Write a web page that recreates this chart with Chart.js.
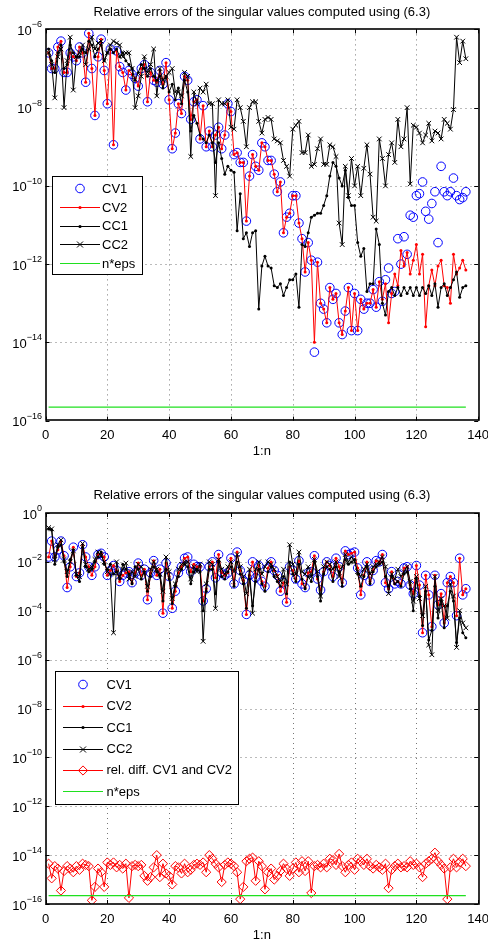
<!DOCTYPE html>
<html>
<head>
<meta charset="utf-8">
<script src="https://cdn.jsdelivr.net/npm/chart.js@4/dist/chart.umd.min.js"></script>
<style>
body{margin:0;background:#fff;width:488px;height:943px;overflow:hidden;position:relative}
canvas{position:absolute;left:0}
</style>
</head>
<body>
<canvas id="c1" width="488" height="471" style="top:0"></canvas>
<canvas id="c2" width="488" height="472" style="top:471px"></canvas>
<script>
// values are log10 of the relative error, for i = 1..136
var titleText = 'Relative errors of the singular values computed using (6.3)';
var xLabel = '1:n';
var xTicks = [0, 20, 40, 60, 80, 100, 120, 140];
var topYExps = [-6, -8, -10, -12, -14, -16];
var botYExps = [0, -2, -4, -6, -8, -10, -12, -14, -16];
var epsLevel = 2.22e-16;

// ---- upper plot ----
var topCV1 = [
 -6.6,-7.0,-7.0,-6.45,-6.3,-7.1,-7.1,-6.6,-6.7,-6.8,
 -6.45,-6.6,-7.35,-6.1,-7.0,-8.2,-6.7,-6.25,-7.05,-7.9,
 -6.5,-8.95,-6.55,-6.95,-7.1,-7.55,-7.05,-7.15,-7.25,-7.45,
 -7.0,-6.9,-7.85,-7.1,-7.3,-7.35,-7.05,-7.4,-6.85,-7.8,
 -9.05,-8.65,-7.9,-8.15,-7.2,-7.3,-8.3,-7.85,-7.8,-8.8,
 -7.95,-9.0,-8.6,-9.0,-8.7,-8.5,-9.05,-8.7,-7.9,-8.1,
 -9.2,-9.15,-9.4,-9.4,-10.9,-9.75,-9.2,-9.5,-9.6,-8.9,
 -9.0,-9.35,-9.35,-9.7,-10.15,-9.9,-11.2,-10.8,-10.7,-10.25,
 -10.25,-10.95,-11.35,-12.2,-11.45,-11.9,-14.25,-11.95,-13.0,-13.15,
 -13.5,-12.6,-12.9,-12.75,-13.5,-13.8,-13.2,-12.6,-13.7,-12.75,
 -13.7,-12.9,-13.15,-13.0,-13.0,-12.65,-13.1,-12.45,-12.95,-12.4,
 -12.1,-12.75,-12.7,-11.35,-12.0,-11.3,-11.75,-10.75,-10.8,-10.25,
 -10.2,-9.9,-10.65,-10.85,-10.45,-10.15,-11.45,-9.5,-10.15,-10.25,
 -10.15,-9.8,-10.25,-10.35,-10.3,-10.15
];
var topCV2 = [
 -6.6,-7.0,-7.0,-6.45,-6.3,-7.1,-7.1,-6.6,-6.7,-6.8,
 -6.45,-6.6,-7.35,-6.1,-7.0,-8.2,-6.7,-6.25,-7.05,-7.9,
 -6.5,-8.95,-6.55,-6.95,-7.1,-7.55,-7.05,-7.15,-7.25,-7.45,
 -7.0,-6.9,-7.85,-7.1,-7.3,-7.35,-7.05,-7.4,-6.85,-7.8,
 -9.05,-8.65,-7.9,-8.15,-7.2,-7.3,-8.3,-7.85,-7.8,-8.8,
 -7.95,-9.0,-8.6,-9.0,-8.7,-8.5,-9.05,-8.7,-7.9,-8.1,
 -9.2,-9.15,-9.4,-9.4,-10.9,-9.75,-9.2,-9.5,-9.6,-8.9,
 -9.0,-9.35,-9.35,-9.7,-10.15,-9.9,-11.2,-10.8,-10.7,-10.25,
 -10.25,-10.95,-11.35,-12.2,-11.45,-11.9,-14.0,-11.95,-13.0,-13.15,
 -13.5,-12.6,-12.9,-12.75,-13.5,-13.8,-13.2,-12.6,-13.7,-12.75,
 -13.7,-12.9,-13.15,-13.0,-13.0,-12.65,-13.1,-12.45,-12.9,-12.5,
 -13.5,-12.75,-12.25,-12.55,-11.65,-12.05,-11.7,-12.25,-11.9,-11.5,
 -12.25,-11.75,-13.6,-12.55,-12.15,-12.55,-12.05,-11.9,-12.55,-12.6,
 -13.0,-11.75,-12.25,-12.1,-11.9,-12.15
];
var topCC1 = [
 -6.5,-6.8,-7.1,-6.6,-6.4,-7.0,-6.9,-6.4,-6.6,-6.7,
 -6.7,-6.5,-6.6,-6.3,-6.4,-6.7,-6.5,-6.4,-6.8,-6.6,
 -6.5,-6.6,-6.5,-6.7,-6.6,-6.8,-6.9,-7.0,-7.3,-7.1,
 -6.9,-7.0,-7.2,-7.0,-7.2,-7.3,-7.2,-7.5,-7.2,-7.6,
 -7.4,-7.8,-7.5,-7.9,-7.3,-7.6,-8.6,-8.2,-8.4,-8.7,
 -8.8,-8.9,-8.7,-8.9,-9.4,-8.9,-9.3,-9.7,-9.5,-9.6,
 -9.65,-11.15,-10.2,-11.35,-11.2,-11.55,-11.2,-11.15,-13.15,-12.05,
 -11.8,-12.05,-12.1,-12.55,-12.6,-12.5,-12.8,-12.6,-12.4,-12.4,
 -12.25,-13.1,-11.5,-11.55,-11.2,-10.8,-10.75,-10.7,-10.7,-10.5,
 -10.25,-9.75,-9.4,-9.5,-9.8,-10.0,-9.6,-10.3,-10.5,-10.5,
 -11.45,-11.8,-11.6,-12.7,-12.5,-12.5,-11.1,-11.5,-13.0,-13.3,
 -12.7,-12.6,-12.8,-12.6,-12.8,-12.6,-12.75,-12.6,-12.8,-12.6,
 -12.8,-12.6,-12.75,-12.55,-12.8,-12.5,-13.1,-12.6,-12.5,-12.8,
 -12.6,-12.4,-12.2,-12.85,-12.6,-12.55
];
var topCC2 = [
 -6.6,-6.9,-7.75,-6.7,-6.5,-8.0,-6.8,-6.2,-7.55,-6.7,
 -6.6,-6.4,-6.9,-6.5,-6.2,-6.5,-6.35,-6.3,-6.8,-6.6,
 -6.4,-6.3,-6.35,-6.4,-6.7,-6.6,-6.6,-7.0,-8.0,-7.7,
 -7.2,-6.7,-7.1,-6.9,-6.5,-7.7,-7.0,-7.3,-7.2,-7.1,
 -7.0,-7.6,-7.6,-7.7,-7.1,-7.2,-9.25,-7.6,-7.9,-7.5,
 -7.6,-7.4,-7.9,-7.9,-10.25,-7.8,-7.9,-7.9,-7.8,-8.5,
 -8.55,-7.8,-8.0,-8.35,-9.0,-8.0,-7.85,-7.85,-8.35,-8.65,
 -8.3,-8.25,-8.3,-8.8,-8.85,-8.9,-9.35,-9.5,-9.75,-8.55,
 -8.45,-8.35,-9.15,-9.15,-8.7,-9.5,-9.45,-9.05,-8.8,-9.45,
 -9.45,-8.95,-9.0,-9.25,-10.95,-11.5,-9.5,-10.25,-9.3,-10.0,
 -9.5,-10.25,-9.55,-8.95,-9.7,-10.8,-10.9,-8.8,-9.3,-10.0,
 -9.2,-8.9,-9.4,-8.3,-9.0,-8.8,-8.0,-9.95,-8.45,-8.5,
 -8.65,-8.9,-8.7,-8.4,-8.85,-8.6,-8.65,-8.8,-8.3,-8.4,
 -8.55,-8.05,-6.2,-6.85,-6.3,-6.75
];

// ---- lower plot ----
var botCV1 = [
 -1.8,-1.15,-1.8,-1.5,-1.15,-1.75,-3.05,-2.2,-1.4,-2.6,
 -2.45,-1.3,-1.8,-2.2,-2.55,-2.2,-1.7,-1.65,-1.8,-2.55,
 -2.35,-2.15,-2.35,-2.8,-2.55,-2.45,-2.4,-2.85,-2.45,-2.05,
 -2.55,-2.3,-3.55,-2.45,-1.95,-2.55,-2.3,-4.1,-2.05,-2.6,
 -3.9,-3.2,-2.45,-2.2,-1.85,-1.8,-2.4,-2.1,-2.2,-2.2,
 -3.6,-3.1,-2.2,-2.0,-2.65,-1.7,-2.45,-2.55,-2.45,-1.85,
 -2.9,-1.6,-2.35,-2.75,-4.15,-2.55,-2.0,-2.65,-2.15,-2.8,
 -3.0,-2.25,-2.0,-2.35,-2.55,-3.2,-2.85,-3.65,-2.2,-2.35,
 -2.7,-1.95,-2.9,-3.05,-2.45,-2.4,-1.75,-2.7,-3.15,-2.4,
 -2.0,-2.15,-2.6,-1.85,-2.2,-2.85,-1.55,-1.7,-1.65,-1.6,
 -2.25,-3.35,-2.55,-2.0,-2.8,-2.35,-1.95,-2.0,-1.7,-2.85,
 -3.1,-2.4,-2.9,-2.8,-2.9,-2.25,-2.2,-2.95,-3.3,-2.15,
 -2.95,-4.9,-2.55,-3.35,-4.65,-2.55,-3.75,-3.3,-4.5,-2.85,
 -2.6,-2.85,-4.2,-1.85,-3.35,-3.1
];
// CV2 coincides with CV1 here (relative difference ~1e-15)
var botCV2 = botCV1.slice();
var botCC1 = [
 -0.65,-0.7,-2.1,-1.4,-1.3,-2.0,-2.6,-1.9,-1.5,-2.55,
 -2.8,-1.4,-2.2,-2.4,-2.3,-2.0,-1.8,-1.6,-2.1,-2.3,
 -2.1,-2.5,-2.4,-2.7,-2.1,-2.3,-2.5,-2.9,-2.2,-2.3,
 -2.7,-2.4,-3.2,-2.6,-2.2,-2.4,-2.6,-3.6,-2.3,-2.7,
 -3.7,-3.0,-2.6,-2.3,-2.1,-2.2,-2.9,-2.4,-2.3,-2.4,
 -4.0,-3.2,-2.3,-2.3,-3.3,-2.0,-2.6,-2.7,-2.4,-2.2,
 -3.0,-2.0,-2.5,-2.9,-3.9,-2.7,-3.8,-2.8,-2.3,-2.9,
 -3.2,-2.4,-2.2,-2.6,-2.8,-3.0,-2.6,-3.3,-2.0,-2.5,
 -2.8,-2.1,-2.7,-3.1,-2.6,-2.8,-2.0,-2.6,-3.6,-2.5,
 -2.2,-2.3,-2.8,-2.2,-2.4,-3.0,-1.9,-2.1,-2.0,-1.9,
 -2.5,-3.0,-2.6,-2.2,-2.9,-2.4,-2.2,-2.1,-2.0,-2.6,
 -3.0,-2.6,-2.9,-2.8,-3.0,-2.5,-2.4,-3.1,-4.0,-2.7,
 -3.4,-4.6,-3.2,-5.2,-4.8,-3.0,-4.3,-3.6,-4.7,-3.8,
 -3.2,-3.6,-5.3,-4.3,-4.9,-5.1
];
var botCC2 = [
 -0.6,-0.65,-1.9,-1.3,-1.1,-1.9,-2.4,-2.0,-1.55,-2.5,
 -2.6,-1.25,-2.1,-2.3,-2.2,-1.9,-1.6,-1.75,-2.0,-2.4,
 -2.5,-4.9,-2.0,-2.6,-2.3,-2.05,-2.7,-2.4,-2.6,-2.1,
 -2.2,-2.45,-3.0,-2.3,-2.0,-2.3,-2.5,-3.2,-1.8,-2.4,
 -3.5,-2.9,-2.3,-2.1,-2.0,-2.0,-2.7,-2.2,-2.4,-2.1,
 -5.25,-2.9,-2.0,-2.1,-3.9,-1.9,-2.3,-2.5,-2.2,-2.0,
 -2.4,-1.7,-2.2,-2.6,-3.3,-2.3,-4.1,-2.3,-2.0,-2.5,
 -2.2,-2.0,-2.1,-2.3,-2.6,-2.8,-2.3,-2.9,-1.3,-2.1,
 -2.5,-1.6,-2.4,-2.5,-2.2,-2.6,-1.9,-2.4,-3.4,-2.2,
 -2.0,-2.1,-2.3,-2.0,-2.6,-2.2,-1.7,-2.0,-1.8,-2.0,
 -2.4,-2.6,-2.3,-2.1,-2.5,-2.2,-2.1,-2.0,-1.8,-2.2,
 -3.3,-2.5,-2.7,-2.3,-2.6,-2.4,-2.2,-2.8,-3.6,-2.6,
 -3.5,-4.2,-3.0,-5.4,-5.8,-2.6,-4.0,-3.5,-3.8,-4.3,
 -2.9,-3.4,-5.5,-4.0,-4.5,-4.7
];
var botDiff = [
 -14.35,-14.95,-14.45,-14.55,-15.45,-14.65,-14.45,-14.55,-14.7,-14.45,
 -14.6,-14.35,-14.4,-14.45,-15.85,-15.3,-14.55,-14.7,-15.3,-14.3,
 -14.4,-14.3,-14.5,-14.4,-14.55,-14.35,-15.75,-14.45,-14.4,-14.45,
 -14.4,-14.85,-15.05,-14.9,-14.5,-14.0,-14.9,-14.35,-14.75,-14.85,
 -15.2,-14.45,-14.5,-14.75,-14.35,-14.7,-14.6,-14.4,-14.35,-14.4,
 -14.3,-14.7,-14.0,-14.15,-14.35,-14.5,-15.1,-14.4,-14.3,-14.35,
 -14.45,-14.7,-15.8,-15.3,-14.25,-14.15,-14.1,-15.05,-14.25,-14.45,
 -15.4,-14.7,-14.55,-15.0,-14.85,-14.65,-14.35,-14.55,-14.85,-14.55,
 -14.3,-14.7,-14.25,-14.65,-14.25,-15.55,-14.45,-14.4,-14.5,-14.35,
 -14.5,-14.15,-14.2,-14.4,-13.95,-14.45,-14.7,-14.4,-14.3,-14.6,
 -14.15,-14.25,-14.4,-14.15,-14.45,-14.55,-14.4,-14.5,-14.6,-14.35,
 -15.35,-14.6,-14.45,-14.35,-14.5,-14.45,-14.5,-14.25,-14.4,-14.35,
 -14.5,-14.9,-14.35,-14.25,-14.15,-13.9,-14.25,-14.4,-14.55,-15.8,
 -14.5,-14.15,-14.5,-14.3,-14.15,-14.45
];

var FONT = '"Liberation Sans", Arial, Helvetica, sans-serif';
var GREEN = '#1fe01f';

function pts(logs) {
  return logs.map(function (v, k) { return { x: k + 1, y: Math.pow(10, v) }; });
}
function flat(v, n) {
  var a = [];
  for (var k = 1; k <= n; k++) a.push({ x: k, y: v });
  return a;
}

// dataset styles (marker = legend marker kind)
function dsCV1(d) {
  return { label: 'CV1', data: pts(d), showLine: false, order: 6, marker: 'circle', noLine: true,
    borderColor: '#0000ff', pointStyle: 'circle', pointRadius: 4.3, pointBorderWidth: 1,
    pointBorderColor: '#0000ff', pointBackgroundColor: 'rgba(0,0,0,0)' };
}
function dsDot(label, d, col, order) {
  return { label: label, data: pts(d), order: order, marker: 'dot',
    borderColor: col, borderWidth: 1, pointStyle: 'circle', pointRadius: 1.5, pointBorderWidth: 0,
    pointBackgroundColor: col, pointBorderColor: col };
}
function dsCC2(d) {
  return { label: 'CC2', data: pts(d), order: 3, marker: 'cross',
    borderColor: '#000', borderWidth: 1, pointStyle: 'crossRot', pointRadius: 3.3, pointBorderWidth: 1,
    pointBorderColor: '#000', pointBackgroundColor: '#000' };
}
function dsEps(n) {
  return { label: 'n*eps', data: flat(epsLevel, n), order: 1, marker: null,
    borderColor: GREEN, borderWidth: 1.2, pointRadius: 0 };
}
function dsDiff(d) {
  return { label: 'rel. diff. CV1 and CV2', data: pts(d), order: 2, marker: 'diamond',
    borderColor: '#ff0000', borderWidth: 1, pointStyle: 'rectRot', pointRadius: 4.6, pointBorderWidth: 1,
    pointBorderColor: '#ff0000', pointBackgroundColor: 'rgba(0,0,0,0)' };
}

function drawMarker(ctx, kind, x, y, col) {
  ctx.strokeStyle = col; ctx.fillStyle = col; ctx.lineWidth = 1; ctx.setLineDash([]);
  ctx.beginPath();
  if (kind === 'circle') { ctx.arc(x, y, 4.3, 0, Math.PI * 2); ctx.stroke(); }
  else if (kind === 'dot') { ctx.arc(x, y, 1.6, 0, Math.PI * 2); ctx.fill(); }
  else if (kind === 'cross') {
    ctx.moveTo(x - 3, y - 3); ctx.lineTo(x + 3, y + 3);
    ctx.moveTo(x + 3, y - 3); ctx.lineTo(x - 3, y + 3); ctx.stroke();
  } else if (kind === 'diamond') {
    ctx.moveTo(x, y - 4.6); ctx.lineTo(x + 4.6, y); ctx.lineTo(x, y + 4.6); ctx.lineTo(x - 4.6, y);
    ctx.closePath(); ctx.stroke();
  }
}

function drawPow(ctx, e, xr, y) {
  var sup = e === 0 ? '0' : '\u2212' + Math.abs(e);
  ctx.font = '9px ' + FONT; var ws = ctx.measureText(sup).width;
  ctx.font = '13px ' + FONT; var wb = ctx.measureText('10').width;
  ctx.textAlign = 'left'; ctx.textBaseline = 'alphabetic';
  ctx.fillText('10', xr - ws - wb, y + 5.5);
  ctx.font = '9px ' + FONT;
  ctx.fillText(sup, xr - ws, y - 2);
}

function axesPlugin(cfg) {
  return {
    id: 'matlabAxes',
    beforeDatasetsDraw: function (chart) {
      var ctx = chart.ctx, a = chart.chartArea, xs = chart.scales.x, ys = chart.scales.y;
      ctx.save();
      ctx.strokeStyle = '#777'; ctx.lineWidth = 1; ctx.setLineDash([1, 4]);
      xTicks.forEach(function (t) {
        if (t === 0 || t === 140) return;
        var px = Math.round(xs.getPixelForValue(t)) + 0.5;
        ctx.beginPath(); ctx.moveTo(px, a.top); ctx.lineTo(px, a.bottom); ctx.stroke();
      });
      cfg.yExps.forEach(function (e, k) {
        if (k === 0 || k === cfg.yExps.length - 1) return;
        var py = Math.round(ys.getPixelForValue(Math.pow(10, e))) + 0.5;
        ctx.beginPath(); ctx.moveTo(a.left, py); ctx.lineTo(a.right, py); ctx.stroke();
      });
      ctx.restore();
    },
    afterDraw: function (chart) {
      var ctx = chart.ctx, a = chart.chartArea, xs = chart.scales.x, ys = chart.scales.y;
      ctx.save();
      ctx.setLineDash([]);
      // tick marks (inward, all four sides)
      ctx.strokeStyle = '#000'; ctx.lineWidth = 1;
      xTicks.forEach(function (t) {
        var px = Math.round(xs.getPixelForValue(t)) + 0.5;
        ctx.beginPath();
        ctx.moveTo(px, a.bottom); ctx.lineTo(px, a.bottom - 4);
        ctx.moveTo(px, a.top); ctx.lineTo(px, a.top + 4);
        ctx.stroke();
      });
      cfg.yExps.forEach(function (e) {
        var py = Math.round(ys.getPixelForValue(Math.pow(10, e))) + 0.5;
        ctx.beginPath();
        ctx.moveTo(a.left, py); ctx.lineTo(a.left + 4, py);
        ctx.moveTo(a.right, py); ctx.lineTo(a.right - 4, py);
        ctx.stroke();
      });
      // box
      ctx.lineWidth = 1.6;
      ctx.strokeRect(Math.round(a.left), Math.round(a.top), Math.round(a.right - a.left), Math.round(a.bottom - a.top));
      // tick labels
      ctx.fillStyle = '#000';
      ctx.font = '13px ' + FONT; ctx.textAlign = 'center'; ctx.textBaseline = 'middle';
      xTicks.forEach(function (t) {
        ctx.fillText(String(t), xs.getPixelForValue(t), a.bottom + 15);
      });
      ctx.fillText(xLabel, (a.left + a.right) / 2, a.bottom + 31);
      cfg.yExps.forEach(function (e) {
        drawPow(ctx, e, 42, ys.getPixelForValue(Math.pow(10, e)));
      });
      // title
      ctx.font = '13px ' + FONT; ctx.textAlign = 'center'; ctx.textBaseline = 'middle';
      ctx.fillText(titleText, (a.left + a.right) / 2, cfg.titleY);
      // legend
      var L = cfg.legend, dsets = chart.data.datasets;
      ctx.fillStyle = '#fff'; ctx.fillRect(L.x, L.y, L.w, L.h);
      ctx.strokeStyle = '#000'; ctx.lineWidth = 1;
      ctx.strokeRect(L.x + 0.5, L.y + 0.5, L.w, L.h);
      L.order.forEach(function (di, k) {
        var d = dsets[di], y = L.row0 + k * L.dy;
        if (!d.noLine) {
          ctx.strokeStyle = d.borderColor; ctx.lineWidth = d.borderWidth || 1; ctx.setLineDash([]);
          ctx.beginPath(); ctx.moveTo(L.lx0, Math.round(y) + 0.5); ctx.lineTo(L.lx1, Math.round(y) + 0.5); ctx.stroke();
        }
        if (d.marker) drawMarker(ctx, d.marker, (L.lx0 + L.lx1) / 2, Math.round(y) + 0.5, d.pointBorderColor);
        ctx.fillStyle = '#000'; ctx.font = '13px ' + FONT; ctx.textAlign = 'left'; ctx.textBaseline = 'middle';
        ctx.fillText(d.label, L.tx, y + 1);
      });
      ctx.restore();
    }
  };
}

function makeChart(id, datasets, cfg) {
  return new Chart(document.getElementById(id), {
    type: 'line',
    data: { datasets: datasets },
    options: {
      responsive: false, animation: false, devicePixelRatio: 1, events: [],
      layout: { autoPadding: false, padding: { left: 0, right: 9.8, top: cfg.padTop, bottom: cfg.padBottom } },
      elements: { line: { tension: 0 } },
      plugins: { legend: { display: false }, tooltip: { enabled: false }, title: { display: false } },
      scales: {
        x: { type: 'linear', min: 0, max: 140, ticks: { display: false }, grid: { display: false },
             border: { display: false }, afterFit: function (s) { s.height = 0; } },
        y: { type: 'logarithmic', min: Math.pow(10, cfg.yExps[cfg.yExps.length - 1]), max: Math.pow(10, cfg.yExps[0]),
             ticks: { display: false }, grid: { display: false }, border: { display: false },
             afterFit: function (s) { s.width = 45.5; } }
      }
    },
    plugins: [axesPlugin(cfg)]
  });
}

var nTop = topCV1.length;
makeChart('c1', [
  dsCV1(topCV1),
  dsDot('CV2', topCV2, '#ff0000', 5),
  dsDot('CC1', topCC1, '#000000', 4),
  dsCC2(topCC2),
  dsEps(nTop)
], {
  yExps: topYExps, padTop: 29.4, padBottom: 50.4, titleY: 12,
  legend: { x: 52, y: 176, w: 90, h: 98, row0: 188.3, dy: 18.7, lx0: 60, lx1: 100, tx: 102, order: [0, 1, 2, 3, 4] }
});

var nBot = botCV1.length;
makeChart('c2', [
  dsCV1(botCV1),
  dsDot('CV2', botCV2, '#ff0000', 5),
  dsDot('CC1', botCC1, '#000000', 4),
  dsCC2(botCC2),
  dsDiff(botDiff),
  dsEps(nBot)
], {
  yExps: botYExps, padTop: 42, padBottom: 39, titleY: 24,
  legend: { x: 55, y: 200, w: 183, h: 133, row0: 213.3, dy: 21.4, lx0: 63, lx1: 103, tx: 106.5, order: [0, 1, 2, 3, 4, 5] }
});
</script>
</body>
</html>
